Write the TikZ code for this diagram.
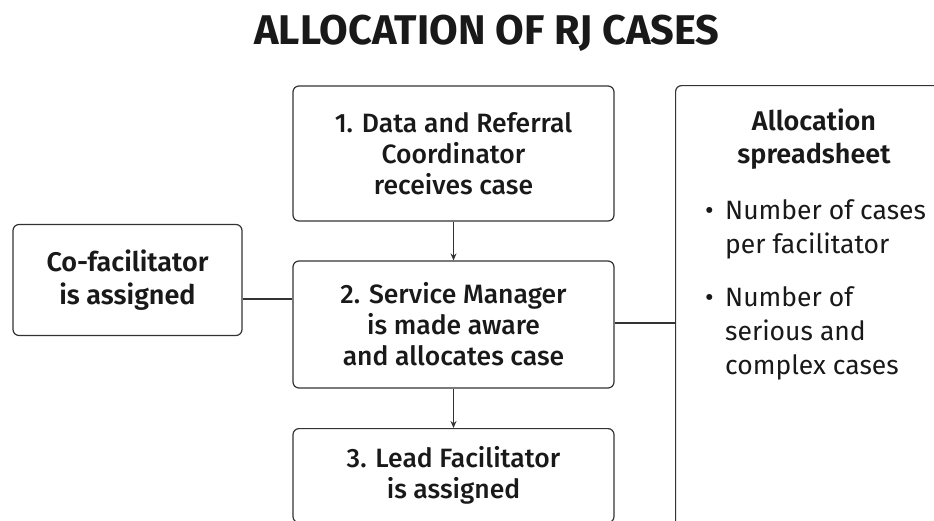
\documentclass[tikz,border=0pt]{standalone}
\usepackage{fontspec}
\setmainfont{Fira Sans}[UprightFont=* Medium, BoldFont=* SemiBold]
\newfontfamily\plainfont{Fira Sans}
\newfontfamily\heavyfont{Fira Sans Bold}
\usetikzlibrary{arrows.meta}
\newcommand{\bulletline}{\makebox[20pt][l]{\textbullet}}
\newcommand{\bulletgap}{\hspace*{20pt}}
\begin{document}
\begin{tikzpicture}[x=1pt,y=-1pt,
  box/.style={draw=black!80,line width=1.2pt,rounded corners=6pt,fill=white,
    inner sep=0pt,align=center,text=black!90},
  stepfont/.style={font=\fontsize{26.5}{31}\selectfont},
  headfont/.style={font=\bfseries\fontsize{27}{33}\selectfont},
  listfont/.style={font=\plainfont\fontsize{26.5}{34}\selectfont},
  link/.style={draw=black!80,line width=1.1pt},
  flow/.style={link,-{Stealth[length=7pt,width=6pt]}}
]
\useasboundingbox (0,0) rectangle (934,520);

\node[font=\heavyfont\fontsize{41.5}{44}\selectfont,text=black!90] (title) at (487,33) {ALLOCATION OF RJ CASES};

\node[box,stepfont,minimum width=321pt,minimum height=135pt] (s1) at (453.5,153.5)
  {1. Data and Referral\\Coordinator\\receives case};
\node[box,stepfont,minimum width=321pt,minimum height=127pt] (s2) at (453.5,324.5)
  {2. Service Manager\\is made aware\\and allocates case};
\node[box,stepfont,minimum width=321pt,minimum height=94pt,anchor=north] (s3) at (453.5,428)
  {3. Lead Facilitator\\is assigned};

\node[box,headfont,minimum width=229pt,minimum height=111pt] (cofac) at (127.5,280)
  {Co-facilitator\\is assigned};

\node[box,minimum width=290pt,minimum height=480pt,anchor=north west] (sheet) at (675,85) {};
\node[headfont,align=center,text=black!90] (sheethead) at (814,139) {Allocation\\spreadsheet};
\node[listfont,align=left,anchor=north west,text=black!90,inner sep=0pt] (item1) at (705,199)
  {\bulletline Number of cases\\\bulletgap per facilitator};
\node[listfont,align=left,anchor=north west,text=black!90,inner sep=0pt] (item2) at (705,286)
  {\bulletline Number of\\\bulletgap serious and\\\bulletgap complex cases};

\draw[flow] (s1) -- (s2);
\draw[flow] (s2) -- (s3);
\draw[link] (cofac.east |- 0,299) -- (s2.west |- 0,299);
\draw[link] (s2.east |- 0,323) -- (sheet.west |- 0,323);
\end{tikzpicture}
\end{document}
